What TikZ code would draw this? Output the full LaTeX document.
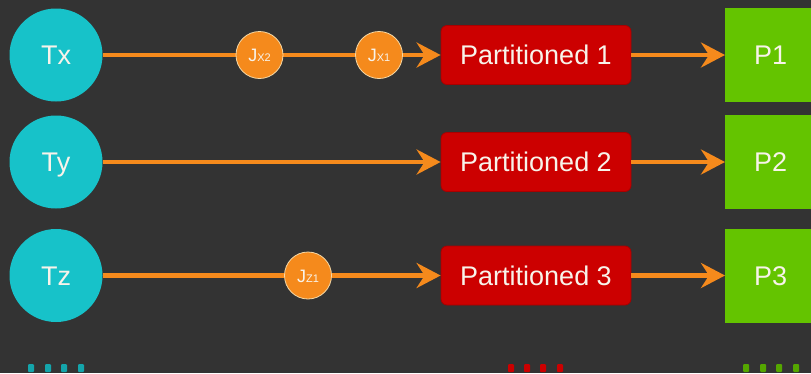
\documentclass[tikz,border=0pt]{standalone}
\usepackage{fontspec}
\setmainfont{Liberation Sans}
\usetikzlibrary{arrows.meta}

\definecolor{bg}{HTML}{333333}
\definecolor{tealc}{HTML}{17C2C9}
\definecolor{redc}{HTML}{CC0000}
\definecolor{redline}{HTML}{A80000}
\definecolor{greenc}{HTML}{64C400}
\definecolor{orangec}{HTML}{F58A1C}
\definecolor{jring}{HTML}{F6D9A6}
\definecolor{cream}{HTML}{F8F3EA}

\tikzset{
  bigtext/.style={text=cream, font=\fontsize{27}{30}\selectfont,
    text height=19.4pt, text depth=0pt},
  txnode/.style={circle, fill=tealc, minimum size=93pt, inner sep=0pt,
    bigtext},
  jnode/.style={circle, fill=orangec, draw=jring, line width=0.8pt,
    minimum size=47pt, inner sep=0pt, text=cream,
    font=\fontsize{18}{20}\selectfont, text height=13pt, text depth=0pt},
  partbox/.style={rectangle, rounded corners=6pt, fill=redc, draw=redline,
    line width=0.8pt, minimum width=190pt, minimum height=59pt,
    inner sep=0pt, bigtext},
  pbox/.style={rectangle, fill=greenc, minimum width=91pt,
    minimum height=94pt, inner sep=0pt, bigtext, anchor=west},
  flow/.style={draw=orangec, line width=4.4pt},
  flowarrow/.style={flow, -{Stealth[length=24pt,width=25pt,inset=8pt]}},
  dotmark/.style={rectangle, minimum width=6pt, minimum height=8pt,
    inner sep=0pt, rounded corners=1pt},
}

\newcommand{\jlabel}[1]{J{\fontsize{11}{11}\selectfont #1}}

\begin{document}
\begin{tikzpicture}[x=1pt,y=-1pt]
  \fill[bg] (0,0) rectangle (811,373);
  \useasboundingbox (0,0) rectangle (811,373);
  \clip (0,0) rectangle (811,373);

  % sources
  \node[txnode] (tx) at (56,55) {Tx};
  \node[txnode] (ty) at (56,162) {Ty};
  \node[txnode] (tz) at (56,275.5) {Tz};

  % partition boxes
  \node[partbox] (pa) at (536,55) {Partitioned 1};
  \node[partbox] (pb) at (536,162) {Partitioned 2};
  \node[partbox] (pc) at (536,275.5) {Partitioned 3};

  % outputs
  \node[pbox] (p1) at (725,55) {P1};
  \node[pbox] (p2) at (725,162) {P2};
  \node[pbox] (p3) at (725,275.5) {P3};

  % connectors
  \draw[flowarrow] (tx.east) -- (pa.west);
  \draw[flowarrow] (ty.east) -- (pb.west);
  \draw[flowarrow] (tz.east) -- (pc.west);
  \draw[flowarrow] (pa.east) -- (p1.west);
  \draw[flowarrow] (pb.east) -- (p2.west);
  \draw[flowarrow] (pc.east) -- (p3.west);

  % in-flight items sitting on the lines
  \node[jnode] (jx2) at (259.5,55) {\jlabel{X2}};
  \node[jnode] (jx1) at (379,55) {\jlabel{X1}};
  \node[jnode] (jz1) at (308,275.5) {\jlabel{Z1}};

  % legend marks along the bottom edge
  \foreach \x in {31,48,64,81}
    \node[dotmark, fill=tealc!85!black] at (\x,368) {};
  \foreach \x in {511,527,543,560}
    \node[dotmark, fill=redc] at (\x,368) {};
  \foreach \x in {746,763,779,796}
    \node[dotmark, fill=greenc!85!black] at (\x,368) {};
\end{tikzpicture}
\end{document}
